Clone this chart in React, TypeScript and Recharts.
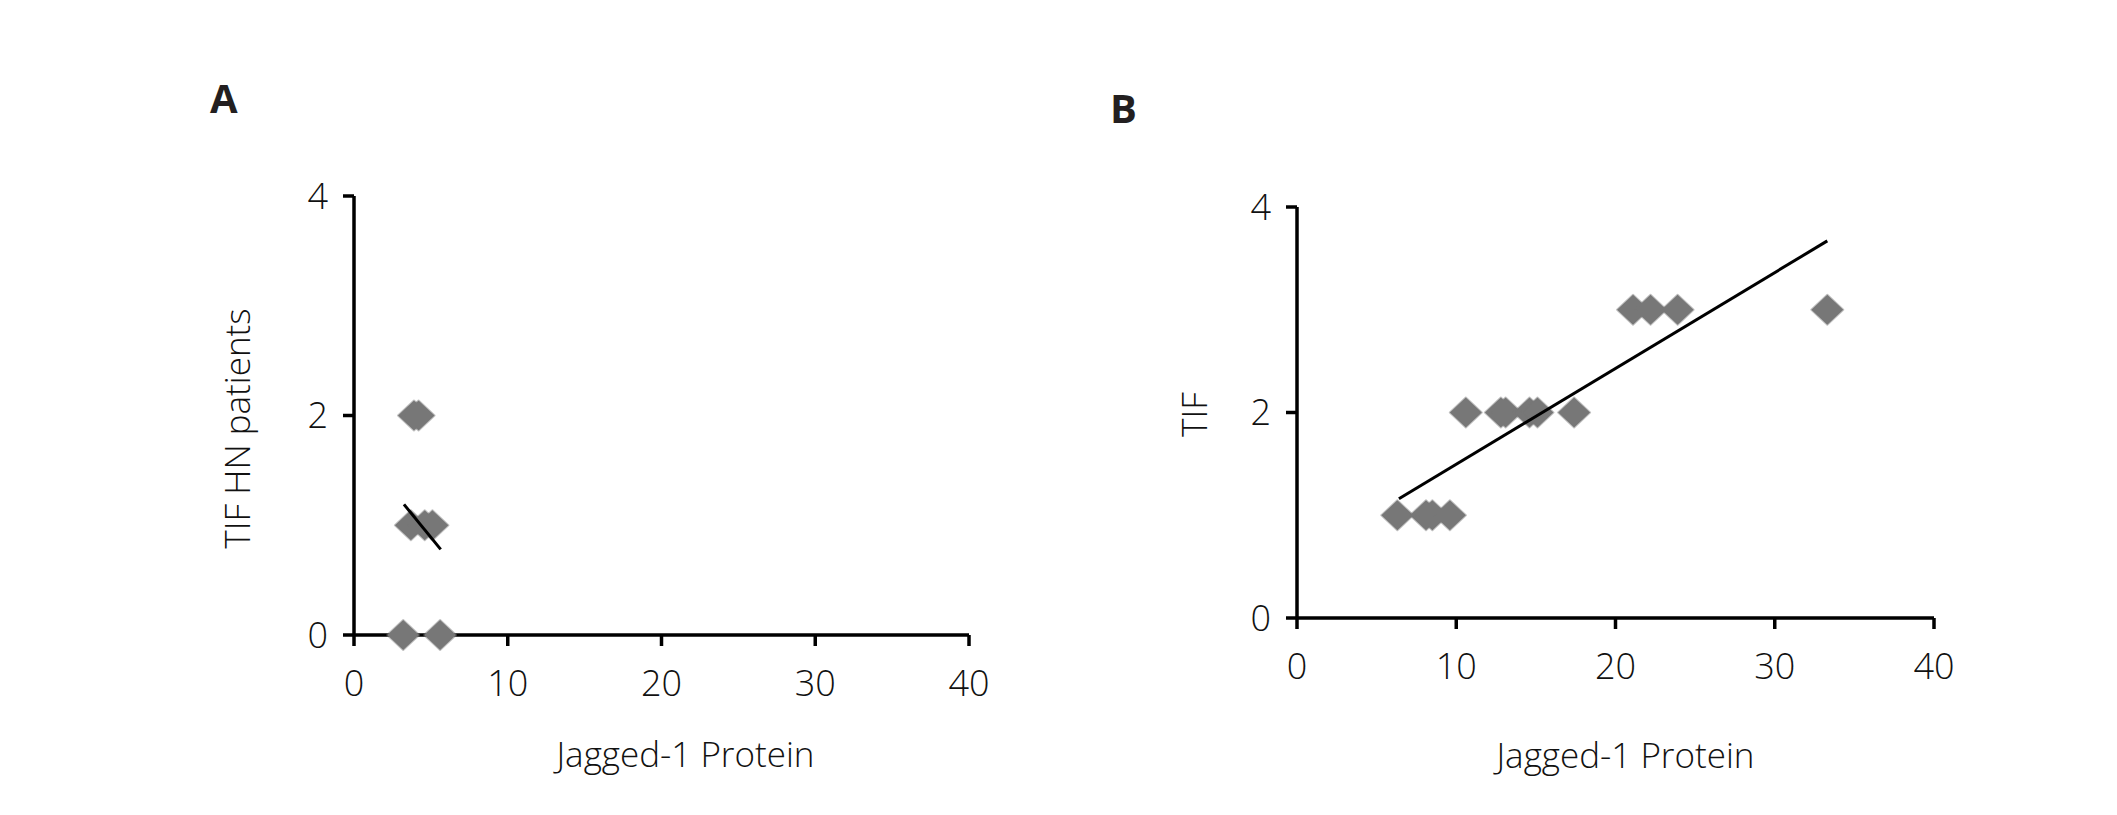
import React from "react";
import {
  ScatterChart,
  Scatter,
  XAxis,
  YAxis,
  Label,
} from "recharts";

// panel A: TIF in HN patients vs Jagged-1 protein
const aJagged = [3.2, 5.6, 3.7, 4.6, 5.1, 3.9, 4.2];
const aTif = [0, 0, 1, 1, 1, 2, 2];
const aTrendJagged = [3.25, 5.64];
const aTrendTif = [1.19, 0.78];

// panel B: TIF vs Jagged-1 protein
const bJagged = [6.3, 8.1, 8.5, 9.6, 10.6, 12.8, 13.1, 14.6, 15.1, 17.4, 21.1, 22.2, 23.9, 33.3];
const bTif = [1, 1, 1, 1, 2, 2, 2, 2, 2, 2, 3, 3, 3, 3];
const bTrendJagged = [6.4, 33.3];
const bTrendTif = [1.16, 3.67];

const xTicks = [0, 10, 20, 30, 40];
const yTicks = [0, 2, 4];

const zip = (xs: number[], ys: number[]) => xs.map((x, i) => ({ x, y: ys[i] }));

const FONT = "'Open Sans', 'Noto Sans', sans-serif";
const TEXT = "#111111";
const MARKER = "#777777";
const AXIS = { stroke: "#000", strokeWidth: 3.5 };

const Diamond = (props: any) => {
  const { cx, cy } = props;
  if (cx == null || cy == null) return <g />;
  return (
    <path
      d={`M${cx},${cy - 15} L${cx + 16},${cy} L${cx},${cy + 15} L${cx - 16},${cy} Z`}
      fill={MARKER}
      stroke={MARKER}
      strokeOpacity={0.45}
      strokeWidth={2}
      strokeLinejoin="round"
    />
  );
};

const NoDot = () => <g />;

interface PanelProps {
  left: number;
  width: number;
  margin: { top: number; right: number; bottom: number; left: number };
  xAxisHeight: number;
  xTickMargin: number;
  yLabel: string;
  yLabelOffset: number;
  yLabelDy: number;
  xLabelDx: number;
  points: { x: number; y: number }[];
  trend: { x: number; y: number }[];
}

function Panel(p: PanelProps) {
  const tick = { fontSize: 36, fill: TEXT, fontFamily: FONT, fontWeight: 300 };
  const labelStyle = { fontSize: 35, fill: TEXT, fontFamily: FONT, fontWeight: 300 };
  return (
    <div style={{ position: "absolute", left: p.left, top: 0 }}>
      <ScatterChart width={p.width} height={815} margin={p.margin}>
        <XAxis
          type="number"
          dataKey="x"
          domain={[0, 40]}
          ticks={xTicks}
          interval={0}
          tick={tick}
          tickSize={11}
          tickMargin={p.xTickMargin}
          height={p.xAxisHeight}
          axisLine={AXIS}
          tickLine={AXIS}
        >
          <Label
            value="Jagged-1 Protein"
            position="insideBottom"
            offset={5}
            dx={p.xLabelDx}
            style={labelStyle}
          />
        </XAxis>
        <YAxis
          type="number"
          dataKey="y"
          domain={[0, 4]}
          ticks={yTicks}
          interval={0}
          tick={tick}
          tickSize={11}
          tickMargin={15}
          width={120}
          axisLine={AXIS}
          tickLine={AXIS}
        >
          <Label
            value={p.yLabel}
            position="insideLeft"
            angle={-90}
            offset={p.yLabelOffset}
            dy={p.yLabelDy}
            textAnchor="middle"
            style={{ ...labelStyle, textAnchor: "middle" }}
          />
        </YAxis>
        <Scatter data={p.points} shape={<Diamond />} isAnimationActive={false} />
        <Scatter
          data={p.trend}
          shape={<NoDot />}
          line={{ stroke: "#000", strokeWidth: 3 }}
          isAnimationActive={false}
        />
      </ScatterChart>
    </div>
  );
}

const titleStyle: React.CSSProperties = {
  position: "absolute",
  fontFamily: FONT,
  fontWeight: 700,
  fontSize: 40,
  lineHeight: 1,
  color: "#231f20",
};

export default function App() {
  return (
    <div
      style={{
        position: "absolute",
        left: 0,
        top: 0,
        width: 2117,
        height: 815,
        background: "#fff",
        overflow: "hidden",
      }}
    >
      <Panel
        left={0}
        width={1060}
        margin={{ top: 196, right: 91, bottom: 43, left: 234 }}
        xAxisHeight={137}
        xTickMargin={24}
        yLabel="TIF HN patients"
        yLabelOffset={4}
        yLabelDy={13}
        xLabelDx={24}
        points={zip(aJagged, aTif)}
        trend={zip(aTrendJagged, aTrendTif)}
      />
      <Panel
        left={1060}
        width={1057}
        margin={{ top: 207, right: 183, bottom: 42, left: 117 }}
        xAxisHeight={155}
        xTickMargin={24}
        yLabel="TIF"
        yLabelOffset={18}
        yLabelDy={2}
        xLabelDx={10}
        points={zip(bJagged, bTif)}
        trend={zip(bTrendJagged, bTrendTif)}
      />
      <div style={{ ...titleStyle, left: 210, top: 78 }}>A</div>
      <div style={{ ...titleStyle, left: 1110, top: 88 }}>B</div>
    </div>
  );
}
